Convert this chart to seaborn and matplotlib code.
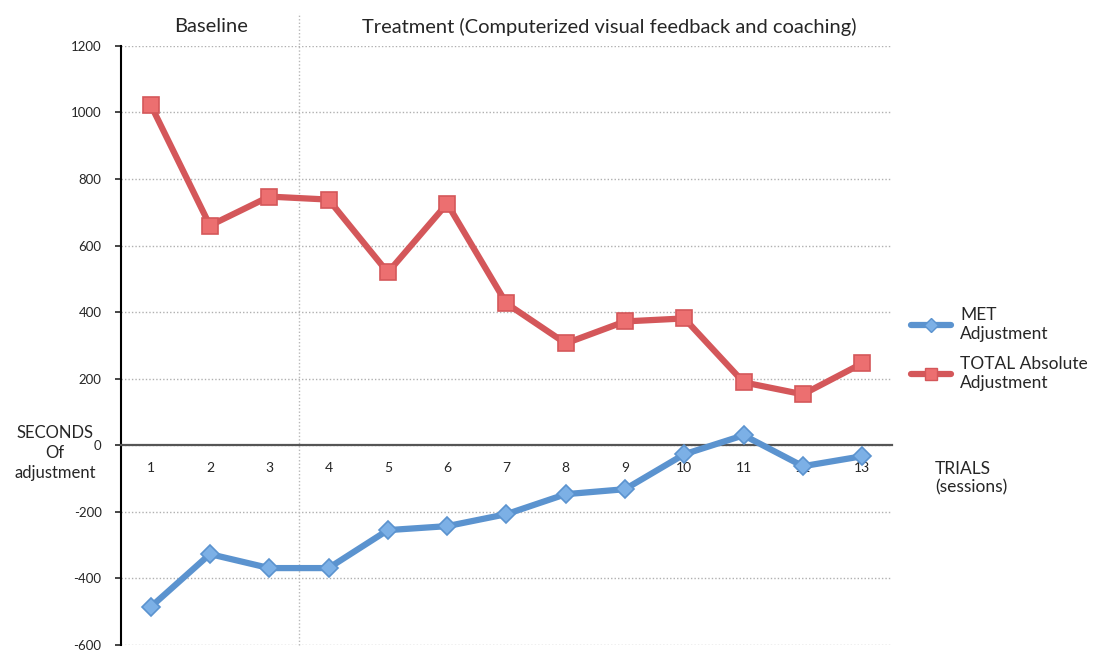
import matplotlib
matplotlib.use("Agg")
import matplotlib.pyplot as plt
import pandas as pd
import seaborn as sns
from matplotlib.lines import Line2D

# Daten
trials = list(range(1, 14))
met_adjustment = [-486, -327, -369, -369, -255, -243, -207, -147, -132, -27, 30, -63, -33]
total_adjustment = [1023, 660, 747, 738, 519, 726, 426, 306, 372, 381, 189, 153, 246]
y_ticks = [-600, -400, -200, 0, 200, 400, 600, 800, 1000, 1200]
series_names = ["MET\nAdjustment", "TOTAL Absolute\nAdjustment"]

red_line, red_face = "#d4575a", "#ec6f70"
blue_line, blue_face = "#5b93cf", "#7cb0e6"

sns.set_style("white")
plt.rcParams['font.family'] = ['Lato', 'DejaVu Sans']

df = pd.DataFrame({"trial": trials, "met": met_adjustment, "total": total_adjustment})

fig = plt.figure(figsize=(10.95, 6.57), dpi=100)
ax = fig.add_axes([0.1105, 0.0183, 0.704, 0.912])

sns.lineplot(data=df, x="trial", y="total", ax=ax, color=red_line, linewidth=4.5,
             marker="s", markersize=12, markerfacecolor=red_face, markeredgecolor=red_line,
             markeredgewidth=1.2, zorder=3)
sns.lineplot(data=df, x="trial", y="met", ax=ax, color=blue_line, linewidth=4.5,
             marker="D", markersize=9, markerfacecolor=blue_face, markeredgecolor=blue_line,
             markeredgewidth=1.2, zorder=3)

ax.set_xlim(0.5, 13.5)
ax.set_ylim(-600, 1200)
ax.set_yticks(y_ticks)
ax.set_yticklabels([str(v) for v in y_ticks], fontsize=9.5)
ax.set_xticks(trials)
ax.set_xticklabels([str(t) for t in trials], fontsize=10)
ax.set_xticks([t + 0.5 for t in range(0, 13)], minor=True)
ax.tick_params(axis="x", which="major", length=0, pad=12)
ax.tick_params(axis="x", which="minor", length=4, width=1.2, direction="inout", color="#555555")
ax.tick_params(axis="y", which="major", length=4, width=1.2, direction="out", left=True, pad=10)
ax.set_xlabel("")
ax.set_ylabel("")

# Gitter und Achsen
ax.yaxis.grid(True, linestyle=(0, (1, 1.5)), color="#b0b0b0", linewidth=1)
ax.xaxis.grid(False)
ax.spines["bottom"].set_position(("data", 0))
ax.spines["bottom"].set_color("#555555")
ax.spines["bottom"].set_linewidth(1.6)
ax.spines["left"].set_color("black")
ax.spines["left"].set_linewidth(1.5)
ax.spines["top"].set_visible(False)
ax.spines["right"].set_visible(False)

# Trennlinie zwischen Baseline und Treatment
ax.axvline(3.5, ymin=0, ymax=1.055, color="#b8b8b8", linestyle=(0, (1, 1.5)),
           linewidth=1, clip_on=False)

fig.text(211 / 1095, 1 - 27 / 657, "Baseline", fontsize=14.5, ha="center", va="center")
fig.text(609 / 1095, 1 - 27 / 657, "Treatment (Computerized visual feedback and coaching)",
         fontsize=14.5, ha="center", va="center")

# Achsentitel links, Zeile für Zeile
for i, line in enumerate(["SECONDS", "Of", "adjustment"]):
    fig.text(55 / 1095, 1 - (433 + 20 * i) / 657, line, fontsize=12, ha="center", va="center")

fig.text(935 / 1095, 1 - 478 / 657, "TRIALS\n(sessions)", fontsize=12.5,
         ha="left", va="center", linespacing=1.2)

handles = [
    Line2D([], [], color=blue_line, linewidth=4.5, marker="D", markersize=7,
           markerfacecolor=blue_face, markeredgecolor=blue_line),
    Line2D([], [], color=red_line, linewidth=4.5, marker="s", markersize=8,
           markerfacecolor=red_face, markeredgecolor=red_line),
]
leg = fig.legend(handles, series_names, loc="center left", bbox_to_anchor=(0.818, 1 - 349 / 657),
                 frameon=False, fontsize=12.5, handlelength=2.3, labelspacing=0.75,
                 handletextpad=0.5)
for t in leg.get_texts():
    t.set_linespacing(1.25)

fig.savefig("out.png", dpi=100)
